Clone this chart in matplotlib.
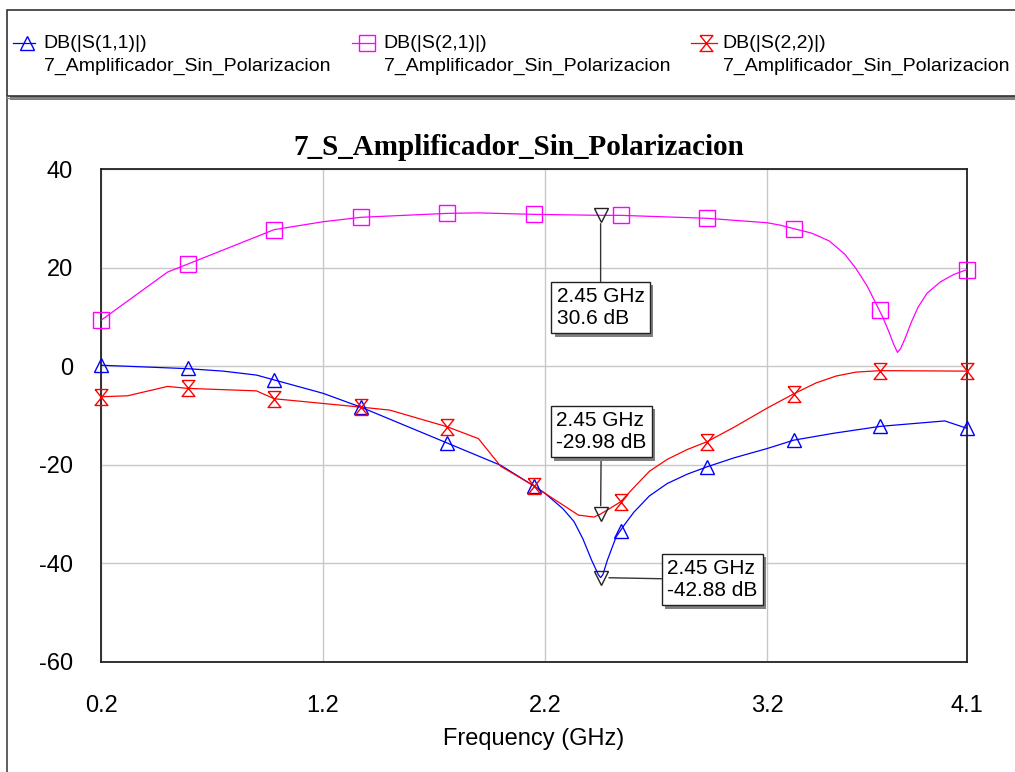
import matplotlib
matplotlib.use("Agg")
import matplotlib.pyplot as plt
import matplotlib.patheffects as pe
from matplotlib.path import Path
from matplotlib.lines import Line2D
from matplotlib.patches import Rectangle

plt.rcParams['font.family'] = ['Liberation Sans', 'DejaVu Sans']
plt.rcParams['axes.unicode_minus'] = False

# ---- data ----
f_s11 = [0.2, 0.59, 0.75, 0.9, 1.2, 1.37, 1.76, 2.0, 2.15, 2.2, 2.28, 2.33, 2.37, 2.41, 2.44, 2.45,
         2.46, 2.48, 2.52, 2.56, 2.6, 2.67, 2.75, 2.84, 2.93, 3.05, 3.2, 3.32, 3.5, 3.71, 4.0, 4.1]
db_s11 = [0.2, -0.5, -1.0, -1.8, -5.5, -8.3, -15.6, -20.1, -24.3, -25.8, -28.9, -31.5, -35.0, -39.4, -42.3, -42.88,
          -42.3, -39.4, -34.6, -32.0, -29.6, -26.3, -23.8, -21.9, -20.4, -18.6, -16.7, -15.0, -13.6, -12.2, -11.1, -12.6]

f_s21 = [0.2, 0.5, 0.59, 0.98, 1.2, 1.37, 1.76, 1.9, 2.15, 2.45, 2.54, 2.93, 3.2, 3.26, 3.32, 3.4, 3.48, 3.55, 3.6,
         3.65, 3.69, 3.72, 3.75, 3.77, 3.787, 3.8, 3.82, 3.85, 3.88, 3.92, 3.98, 4.04, 4.1]
db_s21 = [9.3, 19.1, 20.7, 27.7, 29.3, 30.2, 31.0, 31.1, 30.8, 30.6, 30.6, 30.0, 29.1, 28.6, 27.9, 27.0, 25.4, 22.7, 19.8,
          16.3, 12.7, 10.0, 6.8, 4.4, 2.8, 3.5, 5.5, 9.0, 12.0, 14.8, 17.1, 18.6, 19.6]

f_s22 = [0.2, 0.32, 0.5, 0.59, 0.9, 0.98, 1.37, 1.5, 1.76, 1.9, 2.0, 2.15, 2.2, 2.35, 2.42, 2.45, 2.49, 2.54,
         2.6, 2.67, 2.75, 2.84, 2.93, 3.05, 3.2, 3.32, 3.42, 3.51, 3.6, 3.71, 4.1]
db_s22 = [-6.2, -6.0, -4.1, -4.5, -5.0, -6.6, -8.3, -8.9, -12.3, -14.7, -20.3, -24.3, -25.8, -30.2, -30.6, -29.98,
          -28.9, -27.5, -24.6, -21.3, -18.9, -16.9, -15.3, -12.4, -8.5, -5.6, -3.4, -2.0, -1.2, -0.9, -1.0]

# symbol positions
f_mark = [0.2, 0.59, 0.98, 1.37, 1.76, 2.15, 2.54, 2.93, 3.32, 3.71, 4.1]
m_s11 = [0.2, -0.4, -2.8, -8.3, -15.5, -24.3, -33.4, -20.4, -15.0, -12.2, -12.6]
m_s21 = [9.3, 20.7, 27.7, 30.2, 31.0, 30.8, 30.6, 30.0, 27.9, 11.4, 19.6]
m_s22 = [-6.2, -4.5, -6.6, -8.2, -12.3, -24.3, -27.6, -15.3, -5.6, -0.9, -1.0]

# readouts
f_read = [2.45, 2.45, 2.45]
db_read = [30.6, -29.98, -42.88]

names = ['DB(|S(1,1)|)', 'DB(|S(2,1)|)', 'DB(|S(2,2)|)']
source = '7_Amplificador_Sin_Polarizacion'
xticks = [0.2, 1.2, 2.2, 3.2, 4.1]
yticks = [-60, -40, -20, 0, 20, 40]

# markers
hourglass = Path([(-0.8, 1), (0.8, 1), (-0.8, -1), (0.8, -1), (-0.8, 1)],
                 [Path.MOVETO, Path.LINETO, Path.LINETO, Path.LINETO, Path.LINETO])
colors = ['#0000ff', '#ff00ff', '#ff0000']
mk = ['^', 's', hourglass]
msz = [10.5, 11, 11.5]

W, H = 1015, 772
fig = plt.figure(figsize=(W / 100, H / 100), dpi=100)


def fx(px):
    return px / W


def fy(py):
    return 1 - py / H


ax = fig.add_axes([fx(101), fy(662), fx(967) - fx(101), fy(169) - fy(662)])

series = [(f_s11, db_s11, m_s11), (f_s21, db_s21, m_s21), (f_s22, db_s22, m_s22)]
for (f, d, m), c, mm, ms in zip(series, colors, mk, msz):
    ax.plot(f, d, color=c, lw=0.9, zorder=3)
    ax.plot(f_mark, m, ls='none', marker=mm, ms=ms, mfc='none', mec=c, mew=1.0, zorder=4, clip_on=False)

ax.set_xlim(0.2, 4.1)
ax.set_ylim(-60, 40)
ax.set_xticks(xticks)
ax.set_xticklabels([str(t) for t in xticks])
ax.set_yticks(yticks)
ax.tick_params(length=0, labelsize=17)
ax.tick_params(axis='x', pad=24)
ax.tick_params(axis='y', pad=20)
ax.grid(color='#c8c8c8', lw=1)
ax.set_axisbelow(True)
for s in ax.spines.values():
    s.set_linewidth(1.3)
    s.set_color('#222222')
ax.set_xlabel('Frequency (GHz)', fontsize=17, labelpad=8)

fig.text(fx(519), fy(155), '7_S_Amplificador_Sin_Polarizacion', family='Liberation Serif',
         weight='bold', fontsize=21, ha='center', va='baseline')

# readout boxes
ax.plot(f_read, db_read, ls='none', marker='v', ms=10.5, mfc='none', mec='#222222', mew=1.0, zorder=5)
offsets = [(0, -66.5), (0.5, 59.5), (80.5, -1.5)]
for f, d, (dx, dy) in zip(f_read, db_read, offsets):
    txt = f'{f} GHz\n{d} dB'
    ann = ax.annotate(txt, xy=(f, d), xytext=(dx, dy), textcoords='offset points',
                      ha='center', va='center', multialignment='left', fontsize=15, linespacing=1.2,
                      bbox=dict(boxstyle='square,pad=0.25', fc='white', ec='#222222', lw=1),
                      arrowprops=dict(arrowstyle='-', color='#333333', lw=1, shrinkA=0, shrinkB=6),
                      zorder=7)
    ann.get_bbox_patch().set_path_effects([
        pe.SimplePatchShadow(offset=(2.5, -2.5), shadow_rgbFace='#808080', alpha=1), pe.Normal()])

# outer frames
fig.add_artist(Line2D([fx(7), fx(7)], [fy(98), fy(775)], color='#444444', lw=1.2))
fig.add_artist(Line2D([fx(7), fx(1020)], [fy(98), fy(98)], color='#888888', lw=1))
fig.add_artist(Rectangle((fx(10), fy(100)), fx(1030) - fx(10), fy(96) - fy(100), color='#7a7a7a', lw=0))
fig.add_artist(Rectangle((fx(7), fy(96)), fx(1030) - fx(7), fy(10) - fy(96), fc='white', ec='#333333', lw=1.2))

# legend
leg_x = [(13, 35, 27, 43), (352, 374, 367, 383), (691, 717, 706, 722)]
for (x0, x1, xm, xt), c, mm, ms, nm in zip(leg_x, colors, mk, msz, names):
    fig.add_artist(Line2D([fx(x0), fx(x1)], [fy(43), fy(43)], color=c, lw=0.9))
    fig.add_artist(Line2D([fx(xm)], [fy(43)], ls='none', marker=mm, ms=ms, mfc='none', mec=c, mew=1.0))
    fig.text(fx(xt), fy(43), nm, fontsize=14, va='center', ha='left')
    fig.text(fx(xt + 1), fy(66), source, fontsize=14, va='center', ha='left')

fig.savefig('out.png', dpi=100)
